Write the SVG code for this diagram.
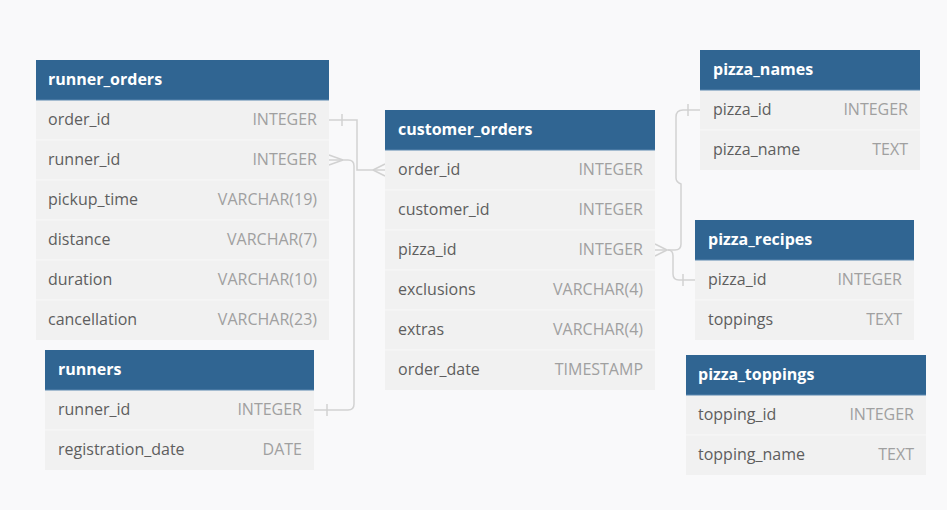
<svg xmlns="http://www.w3.org/2000/svg" width="947" height="510" viewBox="0 0 947 510">
<defs>
<style>
.bg{fill:#f9f9fa}
.body{fill:#f1f1f1}
.hdr{fill:#306592}
.hline{stroke:#5a88b0;stroke-width:1}
.sep{stroke:#f8f8f8;stroke-width:1}
.title{font-family:"Open Sans","Noto Sans",sans-serif;font-size:16px;font-weight:bold;fill:#ffffff}
.fn{font-family:"Open Sans","Noto Sans",sans-serif;font-size:16px;fill:#5e5e5e}
.ft{font-family:"Open Sans","Noto Sans",sans-serif;font-size:16px;fill:#a0a0a0;text-anchor:end}
.con{fill:none;stroke:#d2d2d2;stroke-width:1.5}
</style>
</defs>
<rect class="bg" x="0" y="0" width="947" height="510"/>

<g id="connectors">
  <!-- runner_orders.order_id -> customer_orders.order_id -->
  <path class="con" d="M329,120 H357 V170 H385"/>
  <path class="con" d="M342,114 V126"/>
  <path class="con" d="M373,170 L385,164 M373,170 L385,176"/>
  <!-- runners.runner_id -> runner_orders.runner_id -->
  <path class="con" d="M314,410 H348 Q354,410 354,404 V166 Q354,160 348,160 H329"/>
  <path class="con" d="M327,404 V416"/>
  <path class="con" d="M343,160 L329,155 M343,160 L329,165"/>
  <!-- customer_orders.pizza_id -> pizza_names.pizza_id -->
  <path class="con" d="M700,110 H683 Q676,110 676,117 V178 Q676,182 681,184 V244 Q681,250 675,250 H655"/>
  <path class="con" d="M688,104 V116"/>
  <!-- customer_orders.pizza_id -> pizza_recipes.pizza_id -->
  <path class="con" d="M668,250 Q673,250 673,256 V274 Q673,280 679,280 H695"/>
  <path class="con" d="M683,274 V286"/>
  <path class="con" d="M667,250 L655,244 M667,250 L655,256"/>
</g>

<g id="runner_orders">
  <rect class="body" x="36" y="60" width="293" height="280"/>
  <rect class="hdr" x="36" y="60" width="293" height="40"/>
  <line class="hline" x1="36" y1="100" x2="329" y2="100"/>
  <line class="sep" x1="36" y1="140" x2="329" y2="140"/>
  <line class="sep" x1="36" y1="180" x2="329" y2="180"/>
  <line class="sep" x1="36" y1="220" x2="329" y2="220"/>
  <line class="sep" x1="36" y1="260" x2="329" y2="260"/>
  <line class="sep" x1="36" y1="300" x2="329" y2="300"/>
  <text class="title" x="48" y="85">runner_orders</text>
  <text class="fn" x="48" y="125">order_id</text><text class="ft" x="317" y="125">INTEGER</text>
  <text class="fn" x="48" y="165">runner_id</text><text class="ft" x="317" y="165">INTEGER</text>
  <text class="fn" x="48" y="205">pickup_time</text><text class="ft" x="317" y="205">VARCHAR(19)</text>
  <text class="fn" x="48" y="245">distance</text><text class="ft" x="317" y="245">VARCHAR(7)</text>
  <text class="fn" x="48" y="285">duration</text><text class="ft" x="317" y="285">VARCHAR(10)</text>
  <text class="fn" x="48" y="325">cancellation</text><text class="ft" x="317" y="325">VARCHAR(23)</text>
</g>

<g id="runners">
  <rect class="body" x="45" y="350" width="269" height="120"/>
  <rect class="hdr" x="45" y="350" width="269" height="40"/>
  <line class="hline" x1="45" y1="390" x2="314" y2="390"/>
  <line class="sep" x1="45" y1="430" x2="314" y2="430"/>
  <text class="title" x="58" y="375">runners</text>
  <text class="fn" x="58" y="415">runner_id</text><text class="ft" x="302" y="415">INTEGER</text>
  <text class="fn" x="58" y="455">registration_date</text><text class="ft" x="302" y="455">DATE</text>
</g>

<g id="customer_orders">
  <rect class="body" x="385" y="110" width="270" height="280"/>
  <rect class="hdr" x="385" y="110" width="270" height="40"/>
  <line class="hline" x1="385" y1="150" x2="655" y2="150"/>
  <line class="sep" x1="385" y1="190" x2="655" y2="190"/>
  <line class="sep" x1="385" y1="230" x2="655" y2="230"/>
  <line class="sep" x1="385" y1="270" x2="655" y2="270"/>
  <line class="sep" x1="385" y1="310" x2="655" y2="310"/>
  <line class="sep" x1="385" y1="350" x2="655" y2="350"/>
  <text class="title" x="398" y="135">customer_orders</text>
  <text class="fn" x="398" y="175">order_id</text><text class="ft" x="643" y="175">INTEGER</text>
  <text class="fn" x="398" y="215">customer_id</text><text class="ft" x="643" y="215">INTEGER</text>
  <text class="fn" x="398" y="255">pizza_id</text><text class="ft" x="643" y="255">INTEGER</text>
  <text class="fn" x="398" y="295">exclusions</text><text class="ft" x="643" y="295">VARCHAR(4)</text>
  <text class="fn" x="398" y="335">extras</text><text class="ft" x="643" y="335">VARCHAR(4)</text>
  <text class="fn" x="398" y="375">order_date</text><text class="ft" x="643" y="375">TIMESTAMP</text>
</g>

<g id="pizza_names">
  <rect class="body" x="700" y="50" width="220" height="120"/>
  <rect class="hdr" x="700" y="50" width="220" height="40"/>
  <line class="hline" x1="700" y1="90" x2="920" y2="90"/>
  <line class="sep" x1="700" y1="130" x2="920" y2="130"/>
  <text class="title" x="713" y="75">pizza_names</text>
  <text class="fn" x="713" y="115">pizza_id</text><text class="ft" x="908" y="115">INTEGER</text>
  <text class="fn" x="713" y="155">pizza_name</text><text class="ft" x="908" y="155">TEXT</text>
</g>

<g id="pizza_recipes">
  <rect class="body" x="695" y="220" width="219" height="120"/>
  <rect class="hdr" x="695" y="220" width="219" height="40"/>
  <line class="hline" x1="695" y1="260" x2="914" y2="260"/>
  <line class="sep" x1="695" y1="300" x2="914" y2="300"/>
  <text class="title" x="708" y="245">pizza_recipes</text>
  <text class="fn" x="708" y="285">pizza_id</text><text class="ft" x="902" y="285">INTEGER</text>
  <text class="fn" x="708" y="325">toppings</text><text class="ft" x="902" y="325">TEXT</text>
</g>

<g id="pizza_toppings">
  <rect class="body" x="686" y="355" width="240" height="120"/>
  <rect class="hdr" x="686" y="355" width="240" height="40"/>
  <line class="hline" x1="686" y1="395" x2="926" y2="395"/>
  <line class="sep" x1="686" y1="435" x2="926" y2="435"/>
  <text class="title" x="698" y="380">pizza_toppings</text>
  <text class="fn" x="698" y="420">topping_id</text><text class="ft" x="914" y="420">INTEGER</text>
  <text class="fn" x="698" y="460">topping_name</text><text class="ft" x="914" y="460">TEXT</text>
</g>
</svg>
